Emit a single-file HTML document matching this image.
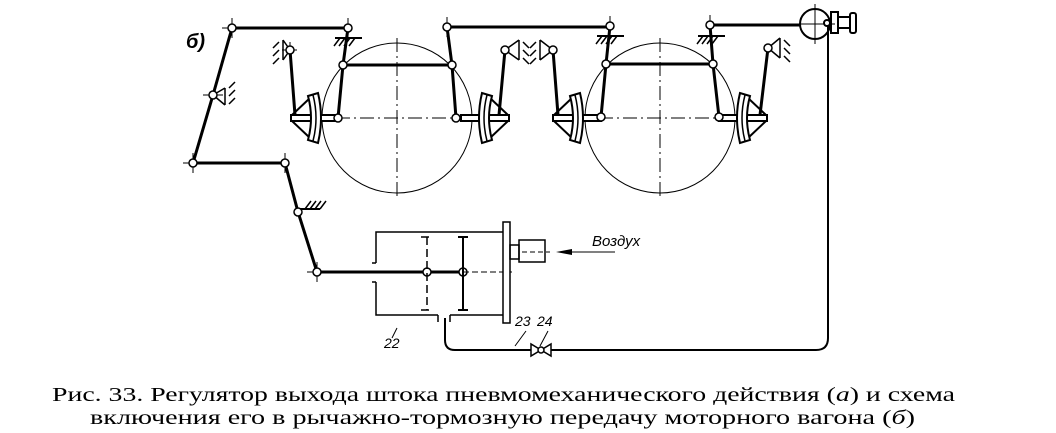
<!DOCTYPE html>
<html><head><meta charset="utf-8"><style>
html,body{margin:0;padding:0;background:#fff;}
svg{display:block;}
</style></head><body>
<svg width="1056" height="433" viewBox="0 0 1056 433" xmlns="http://www.w3.org/2000/svg">
<defs>
<g id="shoe">
  <!-- wheel to the right; origin = shoe center -->
  <rect x="-25" y="-3" width="48" height="6" fill="#fff" stroke="#000" stroke-width="2"/>
  <path d="M-24,-3 L-6,-20 M-24,3 L-6,20" stroke="#000" stroke-width="2" fill="none"/>
  <path d="M-8,-22 L2,-25 Q8,0 2,25 L-8,22 Q-2,0 -8,-22 Z" fill="#fff" stroke="#000" stroke-width="2"/>
  <path d="M-3,-23 Q3,0 -3,23" stroke="#000" stroke-width="1.5" fill="none"/>
</g>
<g id="hatch">
  <path d="M0,0 l-6,8 M5,0 l-6,8 M10,0 l-6,8 M15,0 l-6,8" stroke="#000" stroke-width="1.5"/>
</g>
</defs>
<g fill="none" stroke="#000">
<!-- wheels -->
<circle cx="397" cy="118" r="75" stroke-width="1"/>
<circle cx="660" cy="118" r="75" stroke-width="1"/>
<path d="M397,38 V200 M312,118 H482 M660,38 V200 M575,118 H745" stroke-width="1" stroke-dasharray="14,4,2,4"/>
<!-- top bars -->
<path d="M232,28 H348 M447,27 H610 M710,25 H800" stroke-width="3"/>
<!-- left lever -->
<path d="M232,28 L213,95 L193,163 H285 L298,212 L317,272 H463" stroke-width="3"/>
<!-- brake levers -->
<path d="M348,28 L343,65 L338,118 M290,50 L295,115 M343,65 H452 M447,27 L452,65 L456,118 M505,50 L499,115" stroke-width="3"/>
<path d="M610,26 L606,64 L601,117 M553,50 L558,115 M606,64 H713 M710,25 L713,64 L719,117 M768,48 L760,115" stroke-width="3"/>
</g>
<!-- shoes -->
<use href="#shoe" transform="translate(316,118)"/>
<use href="#shoe" transform="translate(484,118) scale(-1,1)"/>
<use href="#shoe" transform="translate(578,118)"/>
<use href="#shoe" transform="translate(742,118) scale(-1,1)"/>
<!-- ground hatches -->
<g stroke="#000" stroke-width="2">
<path d="M335,38 H362 M597,36 H624 M698,36 H725 M297,209 H320"/>
</g>
<use href="#hatch" transform="translate(340,38)"/>
<use href="#hatch" transform="translate(602,36)"/>
<use href="#hatch" transform="translate(703,36)"/>
<use href="#hatch" transform="translate(302,209) rotate(180) translate(-18,0)"/>
<g stroke="#000" stroke-width="1.5" fill="none">
<path d="M283,40 V60 M279,42 l-6,6 M279,50 l-6,6 M279,58 l-6,6 M283,40 L290,50 L283,60"/>
<path d="M519,40 V60 M523,42 l6,6 M523,50 l6,6 M523,58 l6,6 M519,40 L505,50 L519,60"/>
<path d="M540,40 V60 M536,42 l-6,6 M536,50 l-6,6 M536,58 l-6,6 M540,40 L553,50 L540,60"/>
<path d="M780,38 V58 M784,40 l6,6 M784,48 l6,6 M784,56 l6,6 M780,38 L768,48 L780,58"/>
<path d="M225,88 V105 M229,88 l6,-6 M229,96 l6,-6 M229,104 l6,-6 M213,95 L225,88 M213,95 L225,105"/>
</g>
<!-- crosshair ticks -->
<g stroke="#000" stroke-width="1">
<path d="M232,18 V38 M222,28 H242 M348,18 V38 M447,17 V37 M610,16 V36 M710,15 V35 M193,153 V173 M183,163 H203 M285,153 V173 M317,262 V282 M307,272 H327 M290,42 V58 M297,50 H282 M203,95 H223"/>
</g>
<!-- joints -->
<g fill="#fff" stroke="#000" stroke-width="1.5">
<circle cx="232" cy="28" r="4"/><circle cx="348" cy="28" r="4"/><circle cx="343" cy="65" r="4"/><circle cx="338" cy="118" r="4"/>
<circle cx="290" cy="50" r="4"/><circle cx="452" cy="65" r="4"/><circle cx="447" cy="27" r="4"/><circle cx="456" cy="118" r="4"/><circle cx="505" cy="50" r="4"/>
<circle cx="553" cy="50" r="4"/><circle cx="610" cy="26" r="4"/><circle cx="606" cy="64" r="4"/><circle cx="601" cy="117" r="4"/>
<circle cx="710" cy="25" r="4"/><circle cx="713" cy="64" r="4"/><circle cx="719" cy="117" r="4"/><circle cx="768" cy="48" r="4"/>
<circle cx="213" cy="95" r="4"/><circle cx="193" cy="163" r="4"/><circle cx="285" cy="163" r="4"/><circle cx="298" cy="212" r="4"/><circle cx="317" cy="272" r="4"/>
<circle cx="427" cy="272" r="4"/><circle cx="463" cy="272" r="4"/>
</g>
<!-- top valve -->
<g fill="none" stroke="#000" stroke-width="2">
<circle cx="815" cy="24" r="15"/>
<path d="M815,4 V44 M795,24 H835" stroke-width="1"/>
<rect x="831" y="12" width="7" height="21"/>
<rect x="838" y="17" width="12" height="11"/>
<rect x="850" y="13" width="6" height="20" rx="2"/>
<circle cx="827" cy="23" r="3" fill="#fff"/>
<path d="M828,26 V338 Q828,350 816,350 H455 Q445,350 445,340 V318"/>
</g>
<!-- cylinder -->
<g fill="none" stroke="#000" stroke-width="1.5">
<path d="M376,263 V232 H503 M376,282 V315 H438 M450,315 H503 M372,263 H376 M372,282 H376"/>
<path d="M438,315 V322 M450,315 V322"/>
<path d="M427,237 V310 M421,237 H433 M421,310 H433" stroke-dasharray="8,4"/>
<path d="M463,237 V310 M458,237 H468 M458,310 H468" stroke-width="2"/>
<path d="M463,272 H512" stroke-width="1" stroke-dasharray="6,3"/>
<rect x="503" y="222" width="7" height="101" fill="#fff"/>
<rect x="510" y="245" width="9" height="14"/>
<rect x="519" y="240" width="26" height="22"/>
<path d="M522,252 H550" stroke-width="1" stroke-dasharray="5,3"/>
<path d="M565,252 H615" stroke-width="1"/>
</g>
<path d="M556,252 L572,249 L572,255 Z" fill="#000"/>
<!-- valve 23/24 -->
<g fill="#fff" stroke="#000" stroke-width="1.5">
<path d="M531,344 L531,356 L541,350 Z M551,344 L551,356 L541,350 Z"/>
<circle cx="541" cy="350" r="3"/>
</g>
<g stroke="#000" stroke-width="1">
<path d="M397,328 L392,338 M526,331 L515,346 M548,331 L540,346"/>
</g>
<g font-family="Liberation Sans, sans-serif" font-style="italic" fill="#000">
<text x="186" y="48" font-size="20" font-weight="bold">б)</text>
<text x="592" y="246" font-size="15">Воздух</text>
<text x="384" y="348" font-size="14">22</text>
<text x="515" y="326" font-size="14">23</text>
<text x="537" y="326" font-size="14">24</text>
</g>
<g font-family="Liberation Serif, serif" font-size="20" fill="#000">
<text x="52" y="401" textLength="903" lengthAdjust="spacingAndGlyphs">Рис. 33. Регулятор выхода штока пневмомеханического действия (<tspan font-style="italic">а</tspan>) и схема</text>
<text x="90" y="424" textLength="825" lengthAdjust="spacingAndGlyphs">включения его в рычажно-тормозную передачу моторного вагона (<tspan font-style="italic">б</tspan>)</text>
</g>
</svg>
</body></html>
